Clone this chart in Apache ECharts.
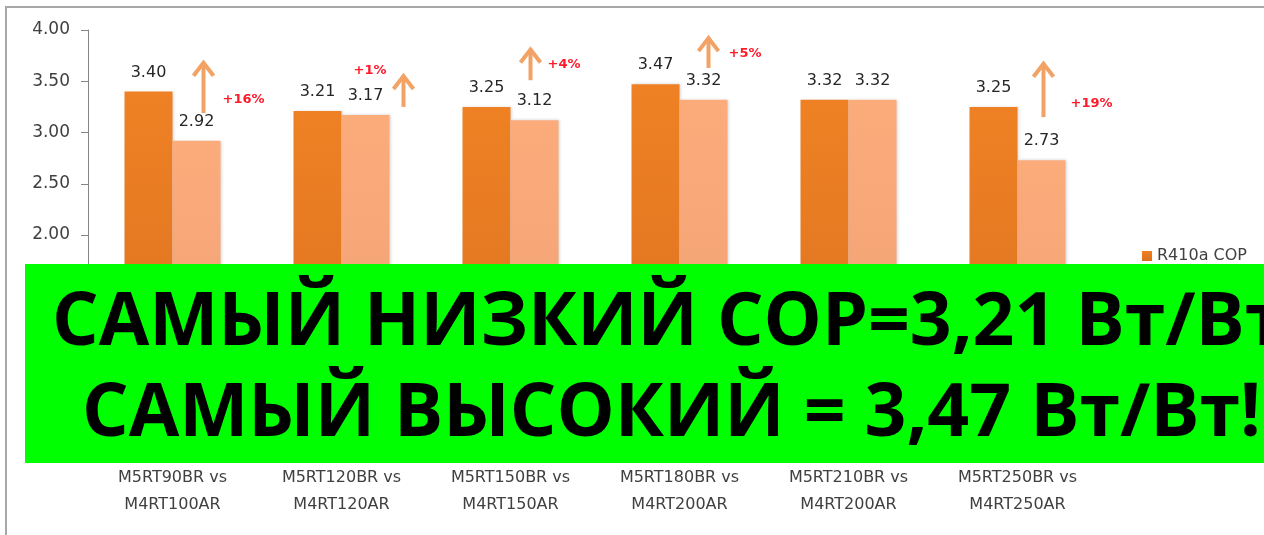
<!DOCTYPE html>
<html lang="ru">

<head>
	<meta charset="UTF-8">
	<title>COP chart</title>
	<style>
		html, body { margin: 0; padding: 0; background: #FFF; }
	</style>
</head>

<body>
	<div id="chart" style="width:1264px;height:535px;"></div>
</body>
<script type="text/javascript" src="https://cdn.jsdelivr.net/npm/echarts@6/dist/echarts.min.js"></script>
<script type="text/javascript">
	// данные
	const categories = [
		'M5RT90BR vs\nM4RT100AR',
		'M5RT120BR vs\nM4RT120AR',
		'M5RT150BR vs\nM4RT150AR',
		'M5RT180BR vs\nM4RT200AR',
		'M5RT210BR vs\nM4RT200AR',
		'M5RT250BR vs\nM4RT250AR'
	];
	const newCop = [3.40, 3.21, 3.25, 3.47, 3.32, 3.25];
	const oldCop = [2.92, 3.17, 3.12, 3.32, 3.32, 2.73];
	const gains = ['+16%', '+1%', '+4%', '+5%', '', '+19%'];
	const seriesNames = ['R410a COP', 'R22 COP'];
	const bannerLines = ['САМЫЙ НИЗКИЙ COP=3,21 Вт/Вт', 'САМЫЙ ВЫСОКИЙ = 3,47 Вт/Вт!'];

	// где рисовать стрелки: сдвиг от центра категории (px) и уровни по оси
	const arrowMarks = [
		{ dx: 31, from: 3.19, to: 3.70, tx: 50, ty: 3.32 },
		{ dx: 62, from: 3.25, to: 3.57, tx: 12, ty: 3.60 },
		{ dx: 20, from: 3.51, to: 3.83, tx: 37, ty: 3.66 },
		{ dx: 29, from: 3.63, to: 3.94, tx: 49, ty: 3.77 },
		null,
		{ dx: 26, from: 3.15, to: 3.69, tx: 53, ty: 3.28 }
	];

	const baseFont = 'DejaVu Sans';
	const arrowColor = '#F2A264';

	let myChart = echarts.init(document.getElementById('chart'));

	// ширина баннерного текста
	const ctx = document.createElement('canvas').getContext('2d');
	ctx.font = 'bold 73px "Open Sans"';
	const sx = 1179 / ctx.measureText(bannerLines[1]).width;

	function grad(top, bottom) {
		return new echarts.graphic.LinearGradient(0, 0, 0, 1, [
			{ offset: 0, color: top },
			{ offset: 1, color: bottom }
		]);
	}

	function barSeries(name, data, top, bottom) {
		return {
			name: name,
			type: 'bar',
			data: data,
			barWidth: 48,
			barGap: '0%',
			itemStyle: {
				color: grad(top, bottom),
				shadowColor: 'rgba(0,0,0,0.18)',
				shadowBlur: 3,
				shadowOffsetX: 1
			},
			label: {
				show: true,
				position: 'top',
				distance: 11,
				fontFamily: baseFont,
				fontSize: 16,
				color: '#262626',
				formatter: function (p) {
					return p.value.toFixed(2);
				}
			}
		};
	}

	let option = {
		backgroundColor: '#FFF',
		animation: false,
		grid: { left: 88, top: 30, width: 1014, height: 410 },
		legend: {
			data: seriesNames,
			orient: 'vertical',
			left: 1137,
			top: 243,
			icon: 'rect',
			itemWidth: 10,
			itemHeight: 10,
			itemGap: 12,
			textStyle: { fontFamily: baseFont, fontSize: 16, color: '#404040' }
		},
		xAxis: {
			type: 'category',
			data: categories,
			axisLine: { show: true, lineStyle: { color: '#868686' } },
			axisTick: { show: false },
			axisLabel: {
				interval: 0,
				margin: 24,
				fontFamily: baseFont,
				fontSize: 16,
				lineHeight: 27,
				color: '#404040'
			}
		},
		yAxis: {
			type: 'value',
			min: 0,
			max: 4,
			interval: 0.5,
			splitLine: { show: false },
			axisLine: { show: true, lineStyle: { color: '#868686', width: 1 } },
			axisTick: { show: true, length: 7, lineStyle: { color: '#868686' } },
			axisLabel: {
				margin: 18,
				fontFamily: baseFont,
				fontSize: 17,
				color: '#404040',
				formatter: function (v) {
					return v.toFixed(2);
				}
			}
		},
		series: [
			barSeries(seriesNames[0], newCop, '#EF8124', '#DA7120'),
			barSeries(seriesNames[1], oldCop, '#FCAB7B', '#EDA073'),
			{
				// стрелки и проценты
				type: 'custom',
				silent: true,
				clip: false,
				z: 5,
				data: categories.map(function (c, i) { return [i, 0]; }),
				encode: { x: 0, y: 1 },
				renderItem: function (params, api) {
					let i = params.dataIndex;
					let m = arrowMarks[i];
					if (!m) return null;
					let base = api.coord([i, m.from]);
					let tip = api.coord([i, m.to]);
					let x = base[0] + m.dx;
					let ty = api.coord([i, m.ty])[1];
					return {
						type: 'group',
						children: [
							{
								type: 'line',
								shape: { x1: x, y1: base[1], x2: x, y2: tip[1] + 2 },
								style: { stroke: arrowColor, lineWidth: 4 }
							},
							{
								type: 'polyline',
								shape: { points: [[x - 10, tip[1] + 15], [x, tip[1] + 2], [x + 10, tip[1] + 15]] },
								style: { stroke: arrowColor, lineWidth: 4, fill: null }
							},
							{
								type: 'text',
								x: base[0] + m.tx,
								y: ty,
								style: {
									text: gains[i],
									fill: '#FF1A2A',
									font: 'bold 13px "DejaVu Sans"',
									verticalAlign: 'middle',
									align: 'left'
								}
							}
						]
					};
				}
			}
		],
		graphic: [
			{
				// рамка диаграммы
				type: 'rect',
				z: 0,
				shape: { x: 6, y: 7, width: 1400, height: 700 },
				style: { fill: null, stroke: '#A8A8A8', lineWidth: 2 }
			},
			{
				type: 'rect',
				z: 100,
				shape: { x: 25, y: 264, width: 1260, height: 199 },
				style: { fill: '#00FF00' }
			},
			{
				type: 'text',
				z: 101,
				x: 52,
				y: 324,
				scaleX: sx,
				style: {
					text: bannerLines[0],
					font: 'bold 73px "Open Sans"',
					fill: '#000',
					verticalAlign: 'middle',
					align: 'left'
				}
			},
			{
				type: 'text',
				z: 101,
				x: 82,
				y: 415,
				scaleX: sx,
				style: {
					text: bannerLines[1],
					font: 'bold 73px "Open Sans"',
					fill: '#000',
					verticalAlign: 'middle',
					align: 'left'
				}
			}
		]
	};
	myChart.setOption(option);
</script>

</html>
